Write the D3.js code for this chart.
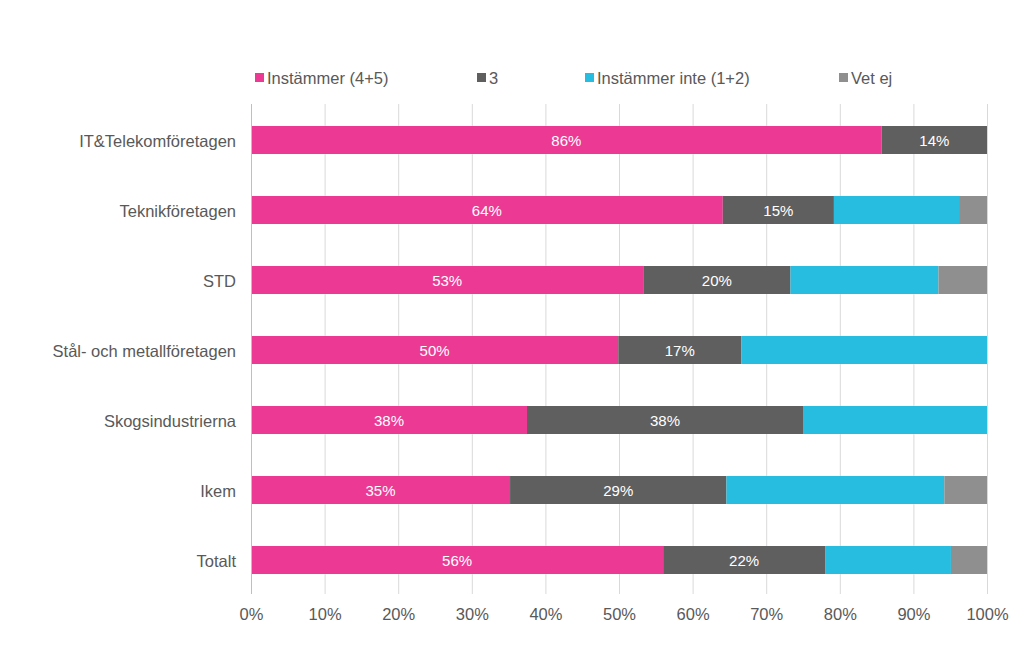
<!DOCTYPE html>
<html><head><meta charset="utf-8">
<script src="https://cdn.jsdelivr.net/npm/d3@7"></script>
<style>body{margin:0;background:#fff;}svg{display:block;font-family:"Liberation Sans",Arial,sans-serif;}</style>
</head><body><svg id="c" width="1024" height="668"></svg>
<script>
const categories = ["IT&Telekomföretagen","Teknikföretagen","STD","Stål- och metallföretagen","Skogsindustrierna","Ikem","Totalt"];
const seriesNames = ["Instämmer (4+5)","3","Instämmer inte (1+2)","Vet ej"];
const agree    = [85.7, 64.1, 53.3, 49.9, 37.5, 35.2, 56.0];
const neutral  = [14.3, 15.1, 20.0, 16.7, 37.5, 29.4, 22.0];
const disagree = [0, 17.0, 20.1, 33.4, 25.0, 29.6, 17.1];
const dontKnow = [0, 3.8, 6.6, 0, 0, 5.8, 4.9];
const labelShown = [true, true, false, false];
const xTicks = [0,10,20,30,40,50,60,70,80,90,100];
const colors = ["#EC3A94","#5F5F5F","#27BDE0","#8F8F8F"];

const svg = d3.select("#c");
const x = d3.scaleLinear().domain([0,100]).range([251,987]);
const y = d3.scaleBand().domain(categories).range([105,595]).paddingInner(0.6).paddingOuter(0.3);
const values = [agree, neutral, disagree, dontKnow];

svg.append("g").selectAll("line").data(xTicks).join("line")
  .attr("x1", d=>x(d)+0.5).attr("x2", d=>x(d)+0.5).attr("y1",104).attr("y2",594)
  .attr("stroke","#d9d9d9").attr("stroke-width",1);

const rows = categories.map((c,i)=>{
  let cum = 0;
  return values.map((arr,s)=>{ const v0=cum; cum+=arr[i]; return {c, s, v0, v1:cum, v:arr[i]}; });
});

const g = svg.append("g");
rows.forEach((row,i)=>{
  row.forEach(d=>{
    if(d.v<=0) return;
    g.append("rect").attr("x", x(d.v0)).attr("width", x(d.v1)-x(d.v0))
      .attr("y", y(d.c)).attr("height", y.bandwidth()).attr("fill", colors[d.s]);
    if(labelShown[d.s]){
      g.append("text").attr("x",(x(d.v0)+x(d.v1))/2).attr("y", y(d.c)+y.bandwidth()/2)
        .attr("dy","0.42em").attr("text-anchor","middle").attr("fill","#fff")
        .attr("font-size",15).text(Math.round(d.v)+"%");
    }
  });
});

svg.append("line").attr("x1",251.5).attr("x2",251.5).attr("y1",104).attr("y2",594).attr("stroke","#bfbfbf");

const xa = svg.append("g").attr("transform","translate(0,594)")
  .call(d3.axisBottom(x).tickValues(xTicks).tickFormat(d=>d+"%").tickSize(0).tickPadding(14));
xa.select(".domain").remove();
xa.selectAll("text").attr("fill","#595959").attr("font-size",16.5).attr("font-family","Liberation Sans, Arial, sans-serif");

const ya = svg.append("g").attr("transform","translate(251,0)")
  .call(d3.axisLeft(y).tickSize(0).tickPadding(15));
ya.select(".domain").remove();
ya.selectAll("text").attr("fill","#595959").attr("font-size",16.5).attr("dy","0.42em").attr("font-family","Liberation Sans, Arial, sans-serif");

const legX = [255, 477, 585, 839];
const leg = svg.append("g");
seriesNames.forEach((n,i)=>{
  leg.append("rect").attr("x",legX[i]).attr("y",73).attr("width",9).attr("height",9).attr("fill",colors[i]);
  leg.append("text").attr("x",legX[i]+12).attr("y",78).attr("dy","0.36em").attr("fill","#595959").attr("font-size",16.5).text(n);
});
</script></body></html>
